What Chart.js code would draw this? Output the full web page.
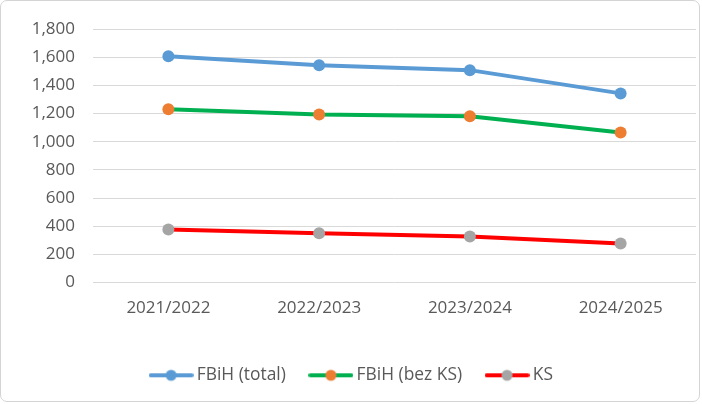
<!DOCTYPE html>
<html>
<head>
<meta charset="utf-8">
<script src="https://cdn.jsdelivr.net/npm/chart.js@4/dist/chart.umd.min.js"></script>
<style>
  html, body { margin: 0; padding: 0; background: #ffffff; }
  #wrap { position: relative; width: 702px; height: 404px; }
  #frame { position: absolute; left: 0; top: 0; width: 700px; height: 402px; box-sizing: border-box;
           border: 1px solid #d4d4d4; border-radius: 7px; pointer-events: none; }
</style>
</head>
<body>
<div id="wrap">
  <canvas id="c" width="702" height="404"></canvas>
  <div id="frame"></div>
</div>
<script>
const categories = ['2021/2022', '2022/2023', '2023/2024', '2024/2025'];
const seriesNames = ['FBiH (total)', 'FBiH (bez KS)', 'KS'];
const fbihTotal = [1607, 1543, 1508, 1343];
const fbihBezKS = [1230, 1193, 1181, 1066];
const ks = [377, 350, 327, 277];
const yTicks = [0, 200, 400, 600, 800, 1000, 1200, 1400, 1600, 1800];

const lineColors = ['#5b9bd5', '#00b050', '#ff0000'];
const pointColors = ['#5b9bd5', '#ed7d31', '#a5a5a5'];
const FONT = '"Open Sans", "Liberation Sans", sans-serif';
const TEXT = '#595959';
const PAD_LEFT = 6;

function legendIcon(lineColor, pointColor) {
  const cv = document.createElement('canvas');
  cv.width = 45; cv.height = 14;
  const g = cv.getContext('2d');
  g.strokeStyle = lineColor; g.lineWidth = 4; g.lineCap = 'round';
  g.beginPath(); g.moveTo(2, 7); g.lineTo(43, 7); g.stroke();
  g.fillStyle = pointColor;
  g.beginPath(); g.arc(22.5, 7, 5.5, 0, Math.PI * 2); g.fill();
  return cv;
}
const icons = lineColors.map((c, i) => legendIcon(c, pointColors[i]));

const dataSets = [fbihTotal, fbihBezKS, ks].map((vals, i) => ({
  label: seriesNames[i],
  data: vals,
  borderColor: lineColors[i],
  backgroundColor: pointColors[i],
  borderWidth: 4,
  pointRadius: 6,
  pointBorderWidth: 0,
  pointBackgroundColor: pointColors[i],
  pointBorderColor: pointColors[i],
  pointHoverRadius: 6,
  tension: 0,
  fill: false
}));

new Chart(document.getElementById('c'), {
  type: 'line',
  data: { labels: categories, datasets: dataSets },
  options: {
    responsive: false,
    animation: false,
    events: [],
    layout: { padding: { left: PAD_LEFT, right: 1, top: 29, bottom: 10 } },
    scales: {
      x: {
        type: 'category',
        offset: true,
        grid: { display: false, drawTicks: false },
        border: { display: false },
        ticks: { color: TEXT, font: { family: FONT, size: 17 }, padding: 15.5, maxRotation: 0, autoSkip: false },
        afterFit: (s) => { s.height = 56; }
      },
      y: {
        min: 0, max: 1800,
        afterBuildTicks: (s) => { s.ticks = yTicks.map(v => ({ value: v })); },
        grid: { color: '#d9d9d9', lineWidth: 1, drawTicks: false },
        border: { display: false },
        ticks: {
          color: TEXT, font: { family: FONT, size: 17 }, padding: 18,
          callback: (v) => Number(v).toLocaleString('en-US')
        },
        afterFit: (s) => { s.width = 93 - PAD_LEFT; }
      }
    },
    plugins: {
      tooltip: { enabled: false },
      legend: {
        position: 'bottom',
        labels: {
          color: TEXT,
          font: { family: FONT, size: 17.4 },
          usePointStyle: true,
          pointStyleWidth: 34,
          padding: 28,
          generateLabels: (chart) => {
            const items = Chart.defaults.plugins.legend.labels.generateLabels(chart);
            items.forEach((it, i) => { it.pointStyle = icons[i]; it.fontColor = TEXT; });
            return items;
          }
        }
      }
    }
  }
});
</script>
</body>
</html>
